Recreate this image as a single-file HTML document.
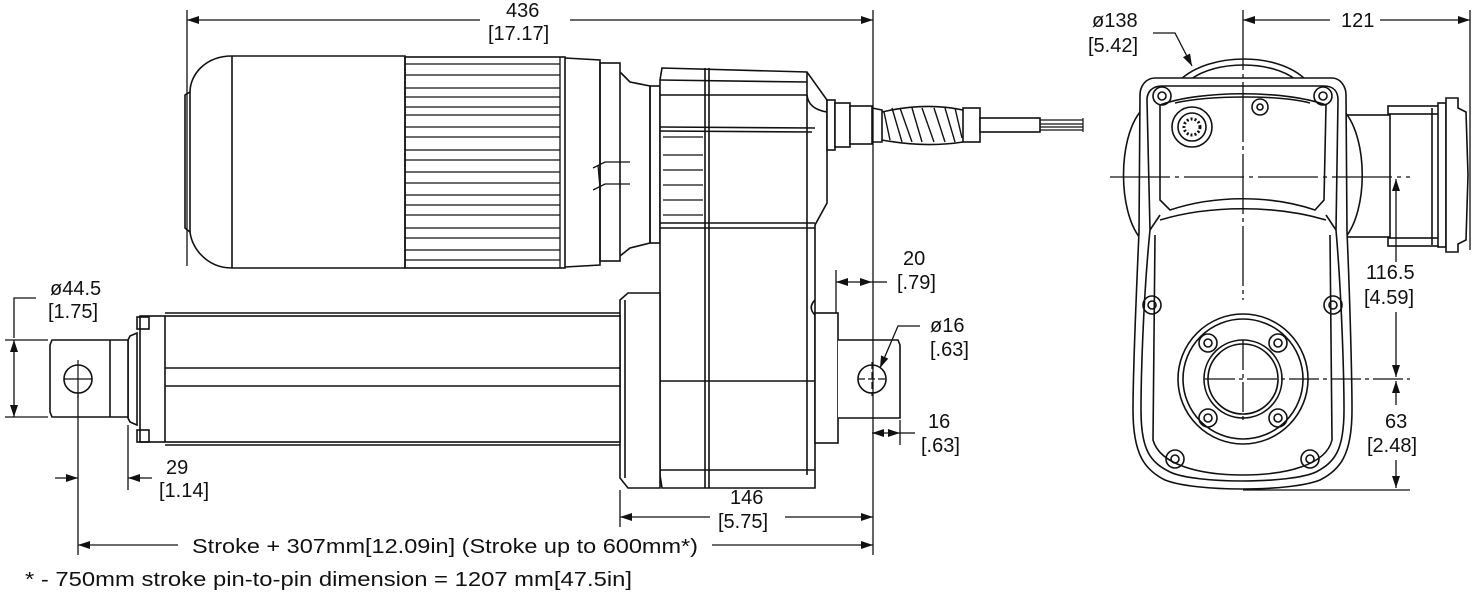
<!DOCTYPE html>
<html><head><meta charset="utf-8"><style>
html,body{margin:0;padding:0;background:#fff;width:1476px;height:594px;overflow:hidden}
svg{display:block}
text{font-family:"Liberation Sans",sans-serif;font-size:20px;fill:#111}
</style></head><body>
<svg width="1476" height="594" viewBox="0 0 1476 594" xmlns="http://www.w3.org/2000/svg">
<defs>
<marker id="a" viewBox="0 0 12 8" refX="12" refY="4" markerWidth="12" markerHeight="8" orient="auto-start-reverse" markerUnits="userSpaceOnUse"><path d="M0,0 L12,4 L0,8 Z" fill="#111"/></marker>
</defs>
<g fill="none" stroke="#111" stroke-width="1.6">
<!-- ===== SIDE VIEW ===== -->
<!-- motor cap -->
<path d="M232,56 L405,56 L405,268 L232,268 C205,268 190,245 190,230 L190,92 C190,75 205,56 232,56 Z" fill="#fff"/>
<path d="M190,92 L185,95 L185,228 L190,232"/>
<line x1="232" y1="56" x2="232" y2="268"/>
<!-- fins -->
<rect x="405" y="57" width="160" height="211"/>
<g stroke-width="1.3">
<line x1="405" y1="64" x2="560" y2="64"/><line x1="405" y1="75" x2="560" y2="75"/>
<line x1="405" y1="88" x2="560" y2="88"/><line x1="405" y1="97" x2="560" y2="97"/>
<line x1="405" y1="107" x2="560" y2="107"/><line x1="405" y1="115" x2="560" y2="115"/>
<line x1="405" y1="127" x2="560" y2="127"/><line x1="405" y1="137" x2="560" y2="137"/>
<line x1="405" y1="150" x2="560" y2="150"/><line x1="405" y1="160" x2="560" y2="160"/>
<line x1="405" y1="172" x2="560" y2="172"/><line x1="405" y1="183" x2="560" y2="183"/>
<line x1="405" y1="195" x2="560" y2="195"/><line x1="405" y1="205" x2="560" y2="205"/>
<line x1="405" y1="215" x2="560" y2="215"/><line x1="405" y1="228" x2="560" y2="228"/>
<line x1="405" y1="238" x2="560" y2="238"/><line x1="405" y1="250" x2="560" y2="250"/>
<line x1="405" y1="260" x2="560" y2="260"/>
<line x1="560" y1="57" x2="560" y2="268"/>
</g>
<!-- rings -->
<path d="M565,58 L600,60 L600,265 L565,267"/>
<rect x="600" y="63" width="20" height="198"/>
<path d="M620,72 L630,82 L650,86 L650,243 L630,248 L620,256"/>
<rect x="650" y="86" width="10" height="157"/>
<path d="M593,168 L605,162 L630,162 M593,190 L605,184 L630,184 M598,165 L600,188" stroke-width="1.3"/>
<!-- gear housing -->
<path d="M662,68 L807,72 L827,100 L827,203 L815,225 L815,488 L662,488 L660,475 L660,80 Z" fill="#fff"/>
<line x1="705" y1="68" x2="705" y2="488"/>
<line x1="709" y1="68" x2="709" y2="488"/>
<line x1="660" y1="80" x2="807" y2="82"/>
<line x1="660" y1="95" x2="807" y2="95"/>
<line x1="660" y1="127" x2="815" y2="128"/>
<line x1="660" y1="131" x2="812" y2="132"/>
<line x1="660" y1="223" x2="815" y2="223"/>
<line x1="660" y1="228" x2="815" y2="228"/>
<line x1="807" y1="72" x2="807" y2="475"/>
<path d="M807,95 C808,105 815,110 827,112"/>
<path d="M663,137 L703,137 M663,155 L703,155 M663,170 L703,170 M663,185 L703,185 M663,200 L703,200 M663,215 L703,215" stroke-width="1.2"/>
<line x1="620" y1="381" x2="815" y2="381"/>
<line x1="620" y1="470" x2="815" y2="470"/>
<!-- lower block -->
<path d="M628,293 L660,293 L660,488 L628,488 L620,478 L620,300 Z" fill="#fff"/>
<line x1="625" y1="300" x2="625" y2="478"/>
<!-- right clevis -->
<path d="M815,300 C810,305 810,310 815,315"/>
<rect x="815" y="313" width="23" height="130" fill="#fff"/>
<path d="M838,340 L898,340 L900,345 L900,418 L838,418" fill="#fff"/>
<circle cx="872" cy="379" r="14"/>
<!-- cable -->
<rect x="827" y="100" width="8" height="50" fill="#fff"/>
<rect x="835" y="103" width="15" height="44" fill="#fff"/>
<rect x="850" y="106" width="22" height="38" fill="#fff"/>
<path d="M872,108 L882,110 L882,142 L872,142"/>
<path d="M884,112 L890,140 M892,108 L902,142 M900,108 L912,142 M912,108 L922,142 M922,108 L934,142 M934,108 L945,142 M945,108 L955,142 M955,108 L962,138" stroke-width="1.4"/>
<path d="M882,112 Q925,102 963,110 M882,140 Q925,148 963,142"/>
<rect x="963" y="108" width="17" height="34" fill="#fff"/>
<rect x="980" y="118" width="60" height="14" fill="#fff"/>
<path d="M1040,120 L1083,120 M1040,124 L1083,124 M1040,127 L1083,127 M1040,130 L1083,130 M1083,118 L1083,132" stroke-width="1.2"/>
<!-- tube -->
<rect x="140" y="316" width="480" height="126" fill="#fff"/>
<line x1="165" y1="313" x2="620" y2="313"/>
<line x1="165" y1="445" x2="620" y2="445"/>
<line x1="165" y1="368" x2="620" y2="368"/>
<line x1="165" y1="386" x2="620" y2="386"/>
<line x1="165" y1="316" x2="165" y2="442"/>
<rect x="137" y="317" width="12" height="12"/>
<rect x="137" y="430" width="12" height="12"/>
<!-- rod end -->
<path d="M137,333 L130,336 L128,340 L128,418 L130,422 L137,425 Z" fill="#fff"/>
<path d="M52,340 L128,340 L128,417 L52,417 L50,412 L50,345 Z" fill="#fff"/>
<line x1="110" y1="340" x2="110" y2="417"/>
<circle cx="78" cy="379" r="14"/>
</g>
<!-- centerlines -->
<g stroke="#111" stroke-width="1.2" fill="none">
<path d="M64,379 L92,379 M78,360 L78,398" />
<path d="M858,379 L886,379 M872,362 L872,396" stroke-dasharray="7,3"/>
</g>
<!-- dimensions side -->
<g stroke="#111" stroke-width="1.3" fill="none">
<line x1="187" y1="10" x2="187" y2="266"/>
<line x1="873" y1="10" x2="873" y2="555"/>
<line x1="187" y1="20" x2="480" y2="20" marker-start="url(#a)"/>
<line x1="570" y1="20" x2="873" y2="20" marker-end="url(#a)"/>
<line x1="5" y1="340" x2="48" y2="340"/>
<line x1="5" y1="417" x2="48" y2="417"/>
<line x1="14" y1="340" x2="14" y2="417" marker-start="url(#a)" marker-end="url(#a)"/>
<path d="M36,298 L14,298 L14,338"/>
<line x1="78" y1="393" x2="78" y2="555"/>
<line x1="128" y1="425" x2="128" y2="490"/>
<line x1="55" y1="478" x2="78" y2="478" marker-end="url(#a)"/>
<line x1="152" y1="478" x2="128" y2="478" marker-end="url(#a)"/>
<line x1="78" y1="545" x2="178" y2="545" marker-start="url(#a)"/>
<line x1="712" y1="545" x2="873" y2="545" marker-end="url(#a)"/>
<line x1="620" y1="490" x2="620" y2="527"/>
<line x1="620" y1="517" x2="710" y2="517" marker-start="url(#a)"/>
<line x1="785" y1="517" x2="873" y2="517" marker-end="url(#a)"/>
<line x1="836" y1="270" x2="836" y2="313"/>
<line x1="836" y1="282" x2="872" y2="282" marker-start="url(#a)" marker-end="url(#a)"/>
<line x1="872" y1="282" x2="887" y2="282"/>
<path d="M920,326 L898,326 L880,368" marker-end="url(#a)"/>
<line x1="900" y1="420" x2="900" y2="445"/>
<line x1="872" y1="433" x2="900" y2="433" marker-start="url(#a)" marker-end="url(#a)"/>
<line x1="900" y1="433" x2="915" y2="433"/>
</g>
<!-- ===== END VIEW ===== -->
<g fill="none" stroke="#111" stroke-width="1.6">
<!-- right connector -->
<rect x="1345" y="115" width="45" height="122" fill="#fff"/>
<rect x="1388" y="106" width="52" height="8"/>
<rect x="1388" y="238" width="52" height="8"/>
<rect x="1438" y="103" width="8" height="144" fill="#fff"/>
<path d="M1446,98 L1458,98 L1458,108 L1466,112 L1468,175 L1466,240 L1458,244 L1458,252 L1446,252 Z" fill="#fff"/>
<line x1="1432" y1="108" x2="1432" y2="245"/>
<!-- side drums -->
<path d="M1140,112 C1118,140 1118,210 1140,238"/>
<path d="M1345,112 C1368,140 1368,210 1345,238"/>
<!-- top bulge -->
<path d="M1180,80 C1210,52 1278,52 1306,80"/>
<path d="M1190,80 C1215,60 1272,60 1296,80"/>
<!-- housing outer -->
<path d="M1155,78 L1332,78 C1340,78 1346,86 1346,95 L1347,232 C1350,300 1352,380 1352,410 C1352,455 1340,470 1320,480 C1290,492 1195,492 1165,480 C1145,470 1133,455 1133,410 C1133,380 1136,300 1139,232 L1140,95 C1140,86 1146,78 1155,78 Z" fill="#fff"/>
<path d="M1162,86 L1324,86 C1334,86 1338,92 1338,100 L1336,230 C1342,300 1344,380 1344,410 C1344,450 1335,462 1316,472 C1290,484 1195,484 1170,472 C1150,462 1141,450 1141,410 C1141,380 1143,300 1150,230 L1147,100 C1147,92 1152,86 1162,86 Z"/>
<!-- inner upper frame -->
<path d="M1160,105 C1200,90 1285,90 1326,105 L1324,200 L1315,210 C1270,195 1215,195 1170,210 L1160,200 Z"/>
<path d="M1175,103 C1210,95 1280,95 1310,103"/>
<path d="M1160,220 C1210,205 1275,205 1326,220"/>
<path d="M1150,230 L1160,215 M1336,230 L1326,215"/>
<path d="M1155,235 L1153,440 C1160,465 1200,475 1243,475 C1286,475 1326,465 1332,440 L1330,235"/>
<!-- bolts -->
<circle cx="1162" cy="96" r="9"/><circle cx="1162" cy="96" r="4"/>
<circle cx="1323" cy="96" r="9"/><circle cx="1323" cy="96" r="4"/>
<circle cx="1152" cy="305" r="9"/><circle cx="1152" cy="305" r="4"/>
<circle cx="1333" cy="305" r="9"/><circle cx="1333" cy="305" r="4"/>
<circle cx="1175" cy="459" r="9"/><circle cx="1175" cy="459" r="4"/>
<circle cx="1310" cy="459" r="9"/><circle cx="1310" cy="459" r="4"/>
<!-- connector -->
<circle cx="1192" cy="127" r="20" fill="#fff"/>
<circle cx="1192" cy="127" r="14"/>
<circle cx="1192" cy="127" r="8" stroke-dasharray="2,2" stroke-width="3"/>
<circle cx="1260" cy="107" r="8"/><circle cx="1260" cy="107" r="3"/>
<!-- mounting -->
<circle cx="1243" cy="379" r="65"/>
<circle cx="1243" cy="379" r="60"/>
<circle cx="1243" cy="379" r="39"/>
<circle cx="1243" cy="379" r="35"/>
<circle cx="1208" cy="343" r="9"/><circle cx="1208" cy="343" r="4"/>
<circle cx="1278" cy="343" r="9"/><circle cx="1278" cy="343" r="4"/>
<circle cx="1208" cy="418" r="9"/><circle cx="1208" cy="418" r="4"/>
<circle cx="1278" cy="418" r="9"/><circle cx="1278" cy="418" r="4"/>
</g>
<g stroke="#111" stroke-width="1.3" fill="none">
<path d="M1243,10 L1243,300" stroke-dasharray="60,4,4,4"/>
<path d="M1110,177 L1410,177" stroke-dasharray="60,5,4,5"/>
<path d="M1205,379 L1410,379" stroke-dasharray="30,4,4,4"/>
<path d="M1243,340 L1243,420" stroke-dasharray="30,4,4,4"/>
<line x1="1243" y1="490" x2="1410" y2="490"/>
<line x1="1470" y1="10" x2="1470" y2="250"/>
<line x1="1243" y1="20" x2="1330" y2="20" marker-start="url(#a)"/>
<line x1="1380" y1="20" x2="1470" y2="20" marker-end="url(#a)"/>
<line x1="1396" y1="179" x2="1396" y2="262" marker-start="url(#a)"/>
<line x1="1396" y1="312" x2="1396" y2="377" marker-end="url(#a)"/>
<line x1="1396" y1="381" x2="1396" y2="405" marker-start="url(#a)"/>
<line x1="1396" y1="460" x2="1396" y2="488" marker-end="url(#a)"/>
<path d="M1153,33 L1175,33 L1192,66" marker-end="url(#a)"/>
</g>
<!-- TEXT -->
<text x="506" y="17">436</text>
<text x="488" y="40">[17.17]</text>
<text x="50" y="295">ø44.5</text>
<text x="48" y="318">[1.75]</text>
<text x="166" y="474">29</text>
<text x="159" y="497">[1.14]</text>
<text x="192" y="553" textLength="506" lengthAdjust="spacingAndGlyphs">Stroke + 307mm[12.09in] (Stroke up to 600mm*)</text>
<text x="25" y="586" textLength="607" lengthAdjust="spacingAndGlyphs">* - 750mm stroke pin-to-pin dimension = 1207 mm[47.5in]</text>
<text x="730" y="504">146</text>
<text x="718" y="528">[5.75]</text>
<text x="903" y="265">20</text>
<text x="897" y="289">[.79]</text>
<text x="930" y="332">ø16</text>
<text x="930" y="356">[.63]</text>
<text x="928" y="428">16</text>
<text x="921" y="452">[.63]</text>
<text x="1092" y="27">ø138</text>
<text x="1088" y="52">[5.42]</text>
<text x="1341" y="27">121</text>
<text x="1366" y="279">116.5</text>
<text x="1364" y="304">[4.59]</text>
<text x="1385" y="428">63</text>
<text x="1367" y="452">[2.48]</text>
</svg>
</body></html>
